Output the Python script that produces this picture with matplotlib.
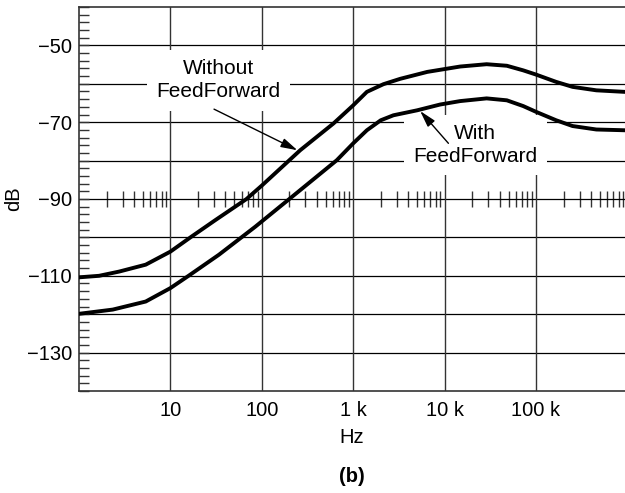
import matplotlib
matplotlib.use("Agg")
import matplotlib.pyplot as plt
from matplotlib.ticker import FixedLocator, MultipleLocator, NullFormatter, LogLocator

plt.rcParams['font.family'] = ['Liberation Sans', 'DejaVu Sans']

# 无前馈曲线 (Hz, dB)
freq_without = [1, 1.66, 2.75, 5.37, 10, 17, 31, 68, 100, 263, 610, 1000, 1410, 2140, 3270,
                6460, 14800, 28800, 47900, 72400, 100000, 166000, 251000, 457000, 933000]
db_without = [-110.4, -110, -108.9, -107.1, -103.7, -99.8, -95.5, -90, -86.5, -77.3, -70.3,
              -65.6, -62.1, -60.1, -58.7, -56.9, -55.5, -54.9, -55.3, -56.5, -57.6, -59.5,
              -60.8, -61.7, -62.1]

# 有前馈曲线 (Hz, dB)
freq_with = [1, 2.34, 5.37, 10, 15.8, 34, 85, 200, 661, 1000, 1410, 2000, 2750, 5010,
             8910, 14800, 28800, 47900, 72400, 100000, 166000, 251000, 457000, 933000]
db_with = [-119.9, -118.8, -116.7, -113.2, -110, -104.5, -97.2, -90, -79.9, -75.5, -72.1,
           -69.5, -68.2, -66.9, -65.4, -64.5, -63.8, -64.3, -65.8, -67.3, -69.5, -71.0,
           -71.9, -72.1]

x_ticks = [10, 100, 1000, 10000, 100000]
x_labels = ["10", "100", "1 k", "10 k", "100 k"]
y_ticks = [-130, -110, -90, -70, -50]
y_labels = ["\u2212130", "\u2212110", "\u221290", "\u221270", "\u221250"]
grid_y = [-130, -120, -110, -100, -90, -80, -70, -60, -50]

fs = 14.5
fig = plt.figure(figsize=(6.25, 4.93), dpi=100)
ax = fig.add_axes([79 / 625, 1 - 391 / 493, 1 - 79 / 625, 384 / 493])
ax.set_xscale('log')
ax.set_xlim(1, 9.4e5)
ax.set_ylim(-140, -40)

gc = '#333333'
for y in grid_y:
    ax.axhline(y, color='black', lw=0.9, zorder=1)
for x in x_ticks:
    ax.axvline(x, color=gc, lw=1.0, zorder=1)

ax.plot(freq_without, db_without, color='black', lw=2.8, zorder=5, solid_joinstyle='round')
ax.plot(freq_with, db_with, color='black', lw=2.8, zorder=5, solid_joinstyle='round')

ax.set_xticks(x_ticks)
ax.set_xticklabels(x_labels)
ax.xaxis.set_minor_locator(FixedLocator([]))
ax.tick_params(axis='x', which='both', length=0, pad=7, labelsize=fs)

ax.yaxis.set_major_locator(FixedLocator(y_ticks))
ax.set_yticklabels(y_labels)
ax.yaxis.set_minor_locator(MultipleLocator(2))
ax.tick_params(axis='y', which='both', direction='in', length=7, width=1,
               pad=5, labelsize=fs, color=gc)

ax.spines['right'].set_visible(False)
for s in ['left', 'top', 'bottom']:
    ax.spines[s].set_linewidth(1.2)
    ax.spines[s].set_color(gc)

# -90 线上的小刻度
sec = ax.secondary_xaxis(0.5)
sec.xaxis.set_major_locator(FixedLocator([]))
sec.xaxis.set_minor_locator(LogLocator(base=10, subs=range(2, 10), numticks=20))
sec.xaxis.set_minor_formatter(NullFormatter())
sec.tick_params(which='minor', direction='inout', length=12, width=1, color=gc)
sec.spines['bottom'].set_visible(False)
sec.spines['top'].set_visible(False)

ax.set_xlabel("Hz", fontsize=fs, labelpad=6)
ax.set_ylabel("dB", fontsize=fs, labelpad=3)
fig.text((79 + 625) / 2 / 625, 1 - 477 / 493, "(b)", ha='center', va='center',
         fontsize=fs, fontweight='bold')

box = dict(boxstyle='square,pad=0.45', fc='white', ec='none')
ax.text(33.6, -59.1, "Without\nFeedForward", ha='center', va='center', fontsize=fs + 0.5,
        linespacing=1.25, bbox=box, zorder=3)
ax.text(21700, -76, "With\nFeedForward", ha='center', va='center', fontsize=fs + 0.5,
        linespacing=1.25, bbox=box, zorder=3)

arrow = dict(arrowstyle='-|>,head_length=1.0,head_width=0.28', color='black', lw=1,
             shrinkA=0, shrinkB=0)
ax.annotate("", xy=(245, -77.3), xytext=(30, -66.6), arrowprops=arrow, zorder=6)
ax.annotate("", xy=(5400, -67.1), xytext=(11000, -75.5), arrowprops=arrow, zorder=6)

fig.savefig("out.png", dpi=100)
